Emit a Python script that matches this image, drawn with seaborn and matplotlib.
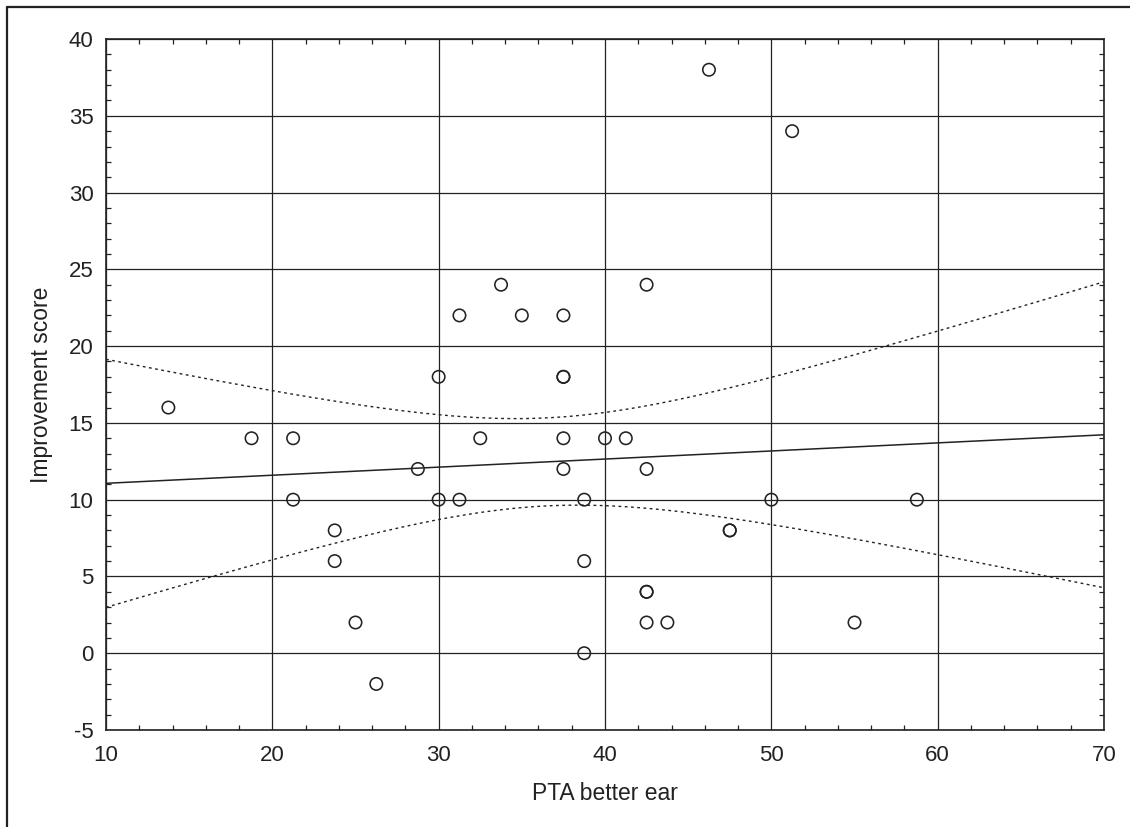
import numpy as np
import matplotlib
matplotlib.use("Agg")
import matplotlib.pyplot as plt
import seaborn as sns
from matplotlib.lines import Line2D
from matplotlib.ticker import MultipleLocator

# values
pta_better_ear = [13.75, 18.75, 21.25, 21.25, 23.75, 23.75, 25.0, 26.25, 28.75,
                  30.0, 30.0, 31.25, 31.25, 32.5, 33.75, 35.0, 37.5, 37.5, 37.5,
                  37.5, 37.5, 38.75, 38.75, 38.75, 40.0, 41.25, 42.5, 42.5, 42.5,
                  42.5, 42.5, 43.75, 46.25, 47.5, 47.5, 50.0, 51.25, 55.0, 58.75]
improvement = [16, 14, 14, 10, 8, 6, 2, -2, 12,
               18, 10, 22, 10, 14, 24, 22, 22, 18, 18,
               14, 12, 10, 6, 0, 14, 14, 24, 12, 4,
               4, 2, 2, 38, 8, 8, 10, 34, 2, 10]

x_ticks = [10, 20, 30, 40, 50, 60, 70]
y_ticks = [-5, 0, 5, 10, 15, 20, 25, 30, 35, 40]

sns.set_style("white")
plt.rcParams['font.family'] = ['Liberation Sans', 'DejaVu Sans']
plt.rcParams['axes.unicode_minus'] = False

ink = "#222222"
fig = plt.figure(figsize=(11.3, 8.27), dpi=100)
ax = fig.add_axes([0.0938, 0.1173, 0.8832, 0.8355])

# linear fit with 95% confidence band for the mean
x = np.array(pta_better_ear)
y = np.array(improvement)
n = len(x)
slope, intercept = np.polyfit(x, y, 1)
xs = np.linspace(10, 70, 200)
fit = intercept + slope * xs
resid = y - (intercept + slope * x)
s = np.sqrt(np.sum(resid ** 2) / (n - 2))
se = s * np.sqrt(1 / n + (xs - x.mean()) ** 2 / np.sum((x - x.mean()) ** 2))
t_crit = 2.026  # t(0.975, df=37)

sns.lineplot(x=xs, y=fit, ax=ax, color=ink, lw=1.1)
sns.lineplot(x=xs, y=fit + t_crit * se, ax=ax, color=ink, lw=1.0,
             linestyle=(0, (2, 2.5)))
sns.lineplot(x=xs, y=fit - t_crit * se, ax=ax, color=ink, lw=1.0,
             linestyle=(0, (2, 2.5)))
sns.scatterplot(x=x, y=y, ax=ax, marker="o", s=80, facecolor="none",
                edgecolor=ink, linewidth=1.15, zorder=4)

ax.set_xlim(10, 70)
ax.set_ylim(-5, 40)
ax.set_xticks(x_ticks)
ax.set_yticks(y_ticks)
ax.xaxis.set_minor_locator(MultipleLocator(2))
ax.yaxis.set_minor_locator(MultipleLocator(1))
ax.grid(True, which="major", color=ink, lw=0.9)
ax.set_axisbelow(True)
ax.tick_params(which="major", length=0, labelsize=16, colors=ink)
ax.tick_params(axis="x", which="major", pad=11)
ax.tick_params(axis="y", which="major", pad=9)
ax.tick_params(which="minor", direction="in", length=3.5, width=0.9,
               color=ink, top=True, right=True, bottom=True, left=True)
for sp in ax.spines.values():
    sp.set_color(ink)
    sp.set_linewidth(1.2)

ax.set_xlabel("PTA better ear", fontsize=16.5, color=ink, labelpad=11)
ax.set_ylabel("Improvement score", fontsize=16.5, color=ink, labelpad=11)

# outer frame (left and top edges of the figure box)
fig.add_artist(Line2D([7 / 1130, 7 / 1130], [0, 1 - 7 / 827], color=ink, lw=1.6))
fig.add_artist(Line2D([7 / 1130, 1], [1 - 7 / 827, 1 - 7 / 827], color=ink, lw=1.6))

fig.savefig("out.png", dpi=100)
